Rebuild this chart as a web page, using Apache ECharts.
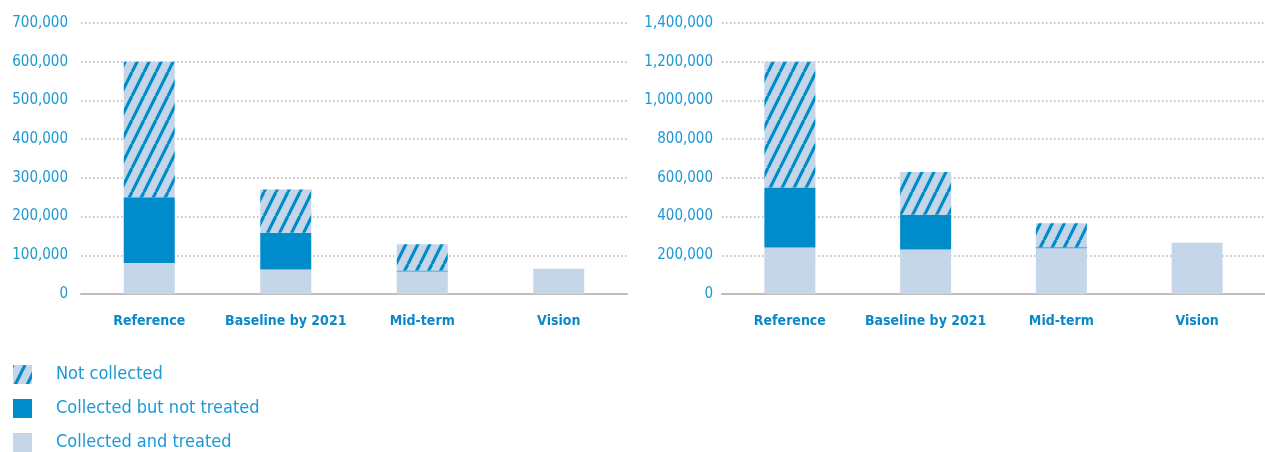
<!DOCTYPE html>
<html>
<head>
<meta charset="utf-8">
<script src="https://cdn.jsdelivr.net/npm/echarts@6/dist/echarts.min.js"></script>
<style>
html,body{margin:0;padding:0;background:#fff;}
#chart{width:1265px;height:452px;}
</style>
</head>
<body>
<div id="chart"></div>
<script>
const categories = ['Reference', 'Baseline by 2021', 'Mid-term', 'Vision'];
const seriesNames = ['Not collected', 'Collected but not treated', 'Collected and treated'];

// Left chart
const leftTreated = [80000, 63000, 58000, 65000];
const leftNotTreated = [170000, 95000, 2500, 0];
const leftNotCollected = [350000, 112000, 68000, 0];

// Right chart
const rightTreated = [240000, 230000, 236000, 265000];
const rightNotTreated = [310000, 180000, 5000, 0];
const rightNotCollected = [650000, 220000, 125000, 0];

const leftTicks = { min: 0, max: 700000, interval: 100000 };
const rightTicks = { min: 0, max: 1400000, interval: 200000 };

const DARK = '#008bca';
const LIGHT = '#c5d6e8';
const TICK_COLOR = '#1b98d5';
const CAT_COLOR = '#0a88c8';
const FONT = '"Liberation Sans Narrow", "DejaVu Sans Condensed", "Roboto", sans-serif';

function makeHatch() {
  const c = document.createElement('canvas');
  const w = 12, h = 24;
  c.width = w; c.height = h;
  const ctx = c.getContext('2d');
  ctx.fillStyle = LIGHT;
  ctx.fillRect(0, 0, w, h);
  ctx.strokeStyle = DARK;
  ctx.lineWidth = 3.2;
  for (let k = -1; k <= 1; k++) {
    ctx.beginPath();
    ctx.moveTo(k * w, h);
    ctx.lineTo(k * w + w, 0);
    ctx.stroke();
  }
  return c;
}
const hatch = { image: makeHatch(), repeat: 'repeat' };

const fmt = v => v.toLocaleString('en-US');

function yAxis(idx, ticks, margin) {
  return {
    type: 'value', gridIndex: idx, min: ticks.min, max: ticks.max, interval: ticks.interval,
    axisLine: { show: false }, axisTick: { show: false },
    axisLabel: { formatter: fmt, color: TICK_COLOR, fontSize: 15, fontFamily: FONT, margin: margin },
    splitLine: { lineStyle: { color: '#b3b3b3', width: 1.5, type: [1.5, 2.5] } }
  };
}
function xAxis(idx) {
  return {
    type: 'category', gridIndex: idx, data: categories,
    axisLine: { lineStyle: { color: '#bdbdbd', width: 2 } },
    axisTick: { show: false },
    axisLabel: { interval: 0, color: CAT_COLOR, fontSize: 14, fontWeight: 'bold', fontFamily: FONT, margin: 20 }
  };
}
function bars(idx, treated, notTreated, notCollected) {
  const base = { type: 'bar', xAxisIndex: idx, yAxisIndex: idx, stack: 's' + idx, barWidth: 51, animation: false };
  return [
    Object.assign({}, base, { name: seriesNames[2], data: treated, itemStyle: { color: LIGHT } }),
    Object.assign({}, base, { name: seriesNames[1], data: notTreated, itemStyle: { color: DARK } }),
    Object.assign({}, base, { name: seriesNames[0], data: notCollected, itemStyle: { color: hatch } })
  ];
}

const chart = echarts.init(document.getElementById('chart'), null, { renderer: 'canvas' });
chart.setOption({
  animation: false,
  backgroundColor: '#fff',
  grid: [
    { left: 81, top: 23, width: 546, height: 271 },
    { left: 722, top: 23, width: 546, height: 271 }
  ],
  xAxis: [xAxis(0), xAxis(1)],
  yAxis: [yAxis(0, leftTicks, 13), yAxis(1, rightTicks, 9)],
  legend: {
    orient: 'vertical', left: 13, top: 365, padding: 0,
    itemWidth: 19, itemHeight: 19, itemGap: 15,
    data: seriesNames.map(n => ({ name: n, icon: 'rect' })),
    selectedMode: false,
    textStyle: { color: TICK_COLOR, fontSize: 18, fontFamily: FONT, padding: [0, 0, 0, 19], lineHeight: 19 }
  },
  series: [].concat(
    bars(0, leftTreated, leftNotTreated, leftNotCollected),
    bars(1, rightTreated, rightNotTreated, rightNotCollected)
  )
});
</script>
</body>
</html>
